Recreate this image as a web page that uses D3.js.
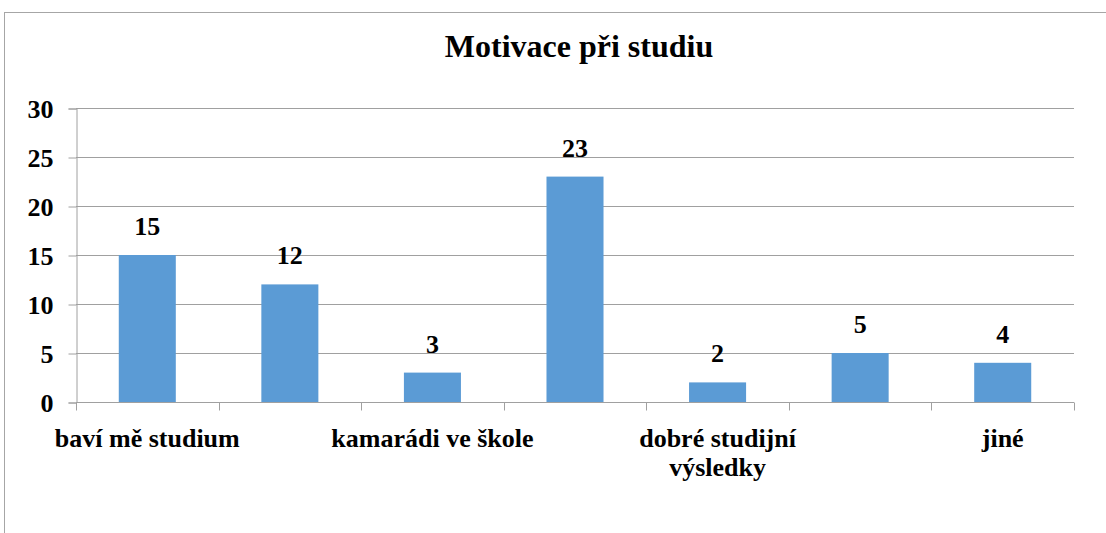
<!DOCTYPE html>
<html>
<head>
<meta charset="utf-8">
<script src="https://cdn.jsdelivr.net/npm/d3@7"></script>
<style>
  body { margin: 0; background: #fff; }
</style>
</head>
<body>
<div class="canvas"></div>
<script>
const title = "Motivace při studiu";
// Excel shows only every other category label; the hidden ones are left blank
const categories = ["baví mě studium", "", "kamarádi ve škole", "", "dobré studijní výsledky", "", "jiné"];
const values = [15, 12, 3, 23, 2, 5, 4];
const yTicks = [0, 5, 10, 15, 20, 25, 30];

const width = 1106;
const height = 533;
const margin = { top: 108, right: 32, bottom: 131, left: 76 };
const fontFamily = "'Liberation Serif', 'Times New Roman', serif";

const svg = d3
  .select(".canvas")
  .append("svg")
  .attr("width", width)
  .attr("height", height)
  .attr("font-family", fontFamily)
  .attr("font-weight", "bold");

// chart frame (runs off the right and bottom edges)
svg
  .append("rect")
  .attr("x", 4.5)
  .attr("y", 12.5)
  .attr("width", width + 10)
  .attr("height", height + 10)
  .attr("fill", "none")
  .attr("stroke", "#a6a6a6");

svg
  .append("text")
  .attr("x", 579)
  .attr("y", 57)
  .attr("text-anchor", "middle")
  .attr("font-size", 32)
  .text(title);

const x = d3
  .scaleBand()
  .domain(d3.range(categories.length))
  .range([margin.left, width - margin.right]);

const y = d3
  .scaleLinear()
  .domain([0, 30])
  .range([height - margin.bottom, margin.top]);

// gridlines
svg
  .selectAll(".grid")
  .data(yTicks)
  .enter()
  .append("line")
  .attr("x1", margin.left)
  .attr("x2", width - margin.right)
  .attr("y1", (d) => Math.round(y(d)) + 0.5)
  .attr("y2", (d) => Math.round(y(d)) + 0.5)
  .attr("stroke", "#a0a0a0")
  .attr("stroke-width", 1);

// y axis
const yAxis = svg
  .append("g")
  .attr("transform", `translate(${margin.left + 0.5},0.5)`)
  .call(d3.axisLeft(y).tickValues(yTicks).tickSize(8).tickPadding(15));
yAxis.selectAll("path, line").attr("stroke", "#a0a0a0");
yAxis
  .selectAll("text")
  .attr("font-size", 26)
  .attr("font-family", fontFamily)
  .attr("fill", "#000")
  .attr("dy", "0.35em");
yAxis.attr("font-size", null).attr("font-family", null);

// x axis with tick marks between categories
const xAxisY = Math.round(y(0)) + 0.5;
svg
  .append("line")
  .attr("x1", margin.left)
  .attr("x2", width - margin.right)
  .attr("y1", xAxisY)
  .attr("y2", xAxisY)
  .attr("stroke", "#a0a0a0");

const bounds = d3.range(categories.length + 1).map((i) =>
  i < categories.length ? x(i) : x(i - 1) + x.bandwidth()
);
svg
  .selectAll(".xtick")
  .data(bounds)
  .enter()
  .append("line")
  .attr("x1", (d) => Math.round(d) + 0.5)
  .attr("x2", (d) => Math.round(d) + 0.5)
  .attr("y1", xAxisY)
  .attr("y2", xAxisY + 8)
  .attr("stroke", "#a0a0a0");

// bars, gap width 150%
const barWidth = x.bandwidth() / 2.5;
svg
  .selectAll(".bar")
  .data(values)
  .enter()
  .append("rect")
  .attr("x", (d, i) => x(i) + (x.bandwidth() - barWidth) / 2)
  .attr("y", (d) => y(d))
  .attr("width", barWidth)
  .attr("height", (d) => y(0) - y(d))
  .attr("fill", "#5b9bd5");

// value labels
svg
  .selectAll(".value")
  .data(values)
  .enter()
  .append("text")
  .attr("x", (d, i) => x(i) + x.bandwidth() / 2)
  .attr("y", (d) => y(d) - 20)
  .attr("text-anchor", "middle")
  .attr("font-size", 26)
  .text((d) => d);

// category labels, wrapped like Excel
const labels = svg
  .selectAll(".cat")
  .data(categories)
  .enter()
  .append("text")
  .attr("x", (d, i) => x(i) + x.bandwidth() / 2)
  .attr("y", 447)
  .attr("text-anchor", "middle")
  .attr("font-size", 26);

labels.each(function (d) {
  const el = d3.select(this);
  const words = d.split(" ");
  let line = [];
  let tspan = el.append("tspan").attr("x", el.attr("x"));
  words.forEach((w) => {
    line.push(w);
    tspan.text(line.join(" "));
    if (tspan.node().getComputedTextLength() > 240 && line.length > 1) {
      line.pop();
      tspan.text(line.join(" "));
      line = [w];
      tspan = el
        .append("tspan")
        .attr("x", el.attr("x"))
        .attr("dy", 29)
        .text(w);
    }
  });
});
</script>
</body>
</html>
